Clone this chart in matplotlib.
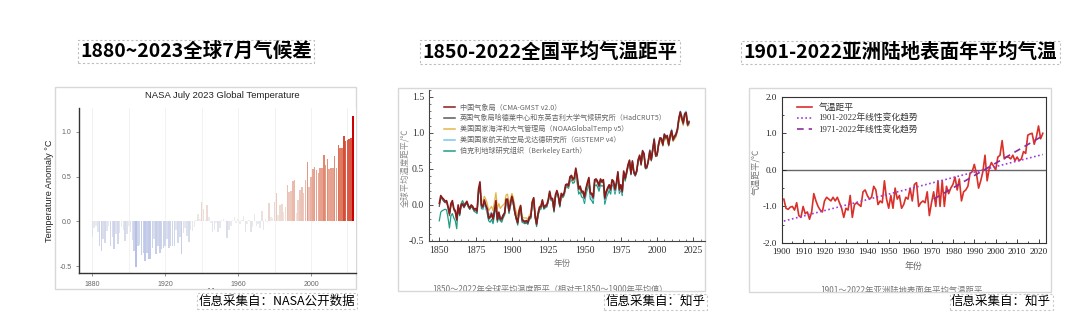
import matplotlib
matplotlib.use('Agg')
import matplotlib.pyplot as plt
from matplotlib.patches import Rectangle
from matplotlib.lines import Line2D
from matplotlib.colors import LinearSegmentedColormap, Normalize
from matplotlib.ticker import MultipleLocator

plt.rcParams['font.family'] = ['Noto Sans CJK SC', 'DejaVu Sans']

W, H = 1080, 333

# ---------------- data ----------------
# panel 1: NASA July anomaly (deg C), 1880-2023
nasa_years = list(range(1880, 2024))
nasa_anom = [
    -0.17, -0.08, -0.05, -0.12, -0.28, -0.33, -0.20, -0.24, -0.11, -0.05,
    -0.27, -0.18, -0.31, -0.14, -0.25, -0.13, -0.06, -0.10, -0.22, -0.14,
    -0.05, -0.12, -0.21, -0.33, -0.51, -0.28, -0.26, -0.38, -0.35, -0.44,
    -0.35, -0.42, -0.42, -0.30, -0.20, -0.37, -0.28, -0.35, -0.31, -0.30,
    -0.28, -0.20, -0.30, -0.27, -0.28, -0.27, -0.10, -0.24, -0.18, -0.36,
    -0.13, -0.08, -0.16, -0.23, -0.10, -0.11, -0.06, 0.02, 0.08, 0.03,
    0.22, 0.14, 0.02, 0.18, 0.05, -0.02, -0.12, -0.10, -0.02, -0.12,
    -0.08, 0.02, 0.03, -0.01, -0.19, -0.10, -0.05, 0.02, 0.05, -0.02,
    0.03, -0.03, 0.02, 0.06, -0.12, -0.03, 0.02, -0.12, -0.06, 0.08,
    -0.05, -0.03, -0.07, 0.12, -0.10, 0.03, -0.01, 0.21, 0.05, 0.04,
    0.22, 0.32, 0.07, 0.18, 0.19, 0.10, 0.16, 0.40, 0.33, 0.34,
    0.45, 0.46, 0.09, 0.24, 0.35, 0.38, 0.32, 0.46, 0.66, 0.38,
    0.50, 0.58, 0.61, 0.57, 0.54, 0.60, 0.60, 0.74, 0.63, 0.70,
    0.58, 0.60, 0.59, 0.73, 0.59, 0.85, 0.82, 0.82, 0.95, 0.90,
    0.91, 0.92, 0.93, 1.18,
]

# panel 2: global mean temperature anomaly vs 1850-1900
cn_years = list(range(1850, 2023))
cma = [
    0.02, 0.13, 0.10, 0.08, 0.05, 0.06, -0.02, -0.12, 0.02, 0.06,
    -0.05, -0.08, -0.20, 0.00, -0.12, 0.00, 0.02, -0.02, 0.02, 0.05,
    -0.01, -0.04, 0.00, -0.02, -0.06, -0.05, -0.08, 0.22, 0.32, 0.00,
    -0.02, 0.07, 0.00, -0.05, -0.18, -0.16, -0.12, -0.19, -0.08, 0.06,
    -0.20, -0.10, -0.19, -0.19, -0.14, -0.11, 0.08, 0.08, -0.08, 0.03,
    0.12, 0.04, -0.09, -0.18, -0.24, -0.08, -0.01, -0.20, -0.22, -0.23,
    -0.22, -0.24, -0.17, -0.16, 0.04, 0.10, -0.15, -0.26, -0.12, -0.03,
    -0.02, 0.07, -0.03, -0.01, 0.00, 0.07, 0.19, 0.09, 0.09, -0.07,
    0.14, 0.20, 0.13, 0.00, 0.16, 0.13, 0.17, 0.28, 0.29, 0.27,
    0.39, 0.41, 0.36, 0.38, 0.51, 0.39, 0.23, 0.26, 0.19, 0.19,
    0.11, 0.23, 0.31, 0.38, 0.17, 0.16, 0.11, 0.35, 0.36, 0.33,
    0.27, 0.36, 0.33, 0.35, 0.10, 0.19, 0.24, 0.28, 0.22, 0.35,
    0.33, 0.22, 0.31, 0.46, 0.22, 0.28, 0.19, 0.47, 0.37, 0.46,
    0.56, 0.62, 0.44, 0.61, 0.46, 0.42, 0.48, 0.63, 0.69, 0.57,
    0.75, 0.71, 0.52, 0.53, 0.62, 0.75, 0.63, 0.77, 0.91, 0.69,
    0.70, 0.84, 0.93, 0.92, 0.84, 0.98, 0.94, 0.96, 0.84, 0.96,
    1.03, 0.91, 0.95, 0.98, 1.05, 1.20, 1.29, 1.21, 1.14, 1.26,
    1.28, 1.12, 1.15,
]
hadcrut = [
    -0.02, 0.10, 0.08, 0.05, 0.03, 0.04, -0.04, -0.15, -0.02, 0.04,
    -0.07, -0.10, -0.22, -0.03, -0.14, -0.02, 0.00, -0.04, 0.00, 0.03,
    -0.03, -0.06, -0.02, -0.04, -0.08, -0.07, -0.10, 0.19, 0.28, -0.02,
    -0.04, 0.05, -0.02, -0.07, -0.20, -0.18, -0.14, -0.21, -0.10, 0.03,
    -0.22, -0.12, -0.21, -0.21, -0.16, -0.12, 0.06, 0.06, -0.10, 0.01,
    0.10, 0.02, -0.11, -0.20, -0.26, -0.10, -0.03, -0.22, -0.23, -0.25,
    -0.24, -0.26, -0.19, -0.18, 0.02, 0.08, -0.17, -0.28, -0.14, -0.05,
    -0.04, 0.05, -0.05, -0.03, -0.02, 0.05, 0.17, 0.07, 0.07, -0.09,
    0.12, 0.18, 0.11, -0.02, 0.14, 0.11, 0.15, 0.26, 0.27, 0.25,
    0.37, 0.39, 0.34, 0.36, 0.49, 0.37, 0.21, 0.24, 0.17, 0.17,
    0.09, 0.21, 0.29, 0.36, 0.15, 0.14, 0.09, 0.33, 0.34, 0.31,
    0.25, 0.34, 0.31, 0.33, 0.08, 0.17, 0.22, 0.26, 0.20, 0.33,
    0.31, 0.20, 0.29, 0.44, 0.20, 0.26, 0.17, 0.45, 0.35, 0.44,
    0.54, 0.60, 0.42, 0.59, 0.44, 0.40, 0.46, 0.61, 0.67, 0.55,
    0.73, 0.69, 0.50, 0.51, 0.60, 0.73, 0.61, 0.75, 0.89, 0.67,
    0.68, 0.82, 0.91, 0.90, 0.82, 0.96, 0.92, 0.94, 0.82, 0.94,
    1.01, 0.89, 0.93, 0.96, 1.03, 1.18, 1.27, 1.19, 1.12, 1.24,
    1.26, 1.10, 1.13,
]
berkeley = [
    -0.22, -0.10, -0.08, -0.07, -0.06, -0.07, -0.18, -0.32, -0.15, -0.12,
    -0.18, -0.22, -0.33, -0.05, -0.15, 0.02, 0.06, 0.02, 0.00, 0.03,
    -0.02, -0.06, -0.02, -0.05, -0.09, -0.10, -0.12, 0.15, 0.25, -0.05,
    -0.06, 0.02, -0.04, -0.12, -0.22, -0.24, -0.20, -0.26, -0.14, -0.02,
    -0.24, -0.16, -0.22, -0.24, -0.18, -0.14, 0.02, 0.03, -0.12, -0.02,
    0.06, 0.00, -0.12, -0.20, -0.28, -0.12, -0.05, -0.24, -0.25, -0.26,
    -0.25, -0.27, -0.20, -0.19, 0.00, 0.05, -0.18, -0.30, -0.16, -0.07,
    -0.06, 0.03, -0.06, -0.04, -0.03, 0.04, 0.15, 0.06, 0.05, -0.10,
    0.10, 0.16, 0.10, -0.03, 0.12, 0.10, 0.13, 0.23, 0.25, 0.23,
    0.32, 0.35, 0.30, 0.31, 0.42, 0.30, 0.15, 0.18, 0.11, 0.10,
    0.02, 0.14, 0.22, 0.29, 0.08, 0.06, 0.02, 0.26, 0.28, 0.25,
    0.19, 0.28, 0.26, 0.27, 0.01, 0.10, 0.15, 0.20, 0.15, 0.28,
    0.26, 0.15, 0.25, 0.40, 0.16, 0.22, 0.13, 0.42, 0.33, 0.42,
    0.53, 0.59, 0.42, 0.59, 0.44, 0.41, 0.46, 0.62, 0.67, 0.56,
    0.74, 0.70, 0.51, 0.53, 0.61, 0.75, 0.63, 0.77, 0.91, 0.70,
    0.70, 0.84, 0.92, 0.92, 0.84, 0.98, 0.94, 0.96, 0.84, 0.96,
    1.03, 0.91, 0.95, 0.98, 1.05, 1.20, 1.28, 1.21, 1.14, 1.26,
    1.27, 1.12, 1.15,
]
us_years = list(range(1880, 2023))
noaa = [
    0.05, 0.12, 0.08, 0.02, -0.08, -0.05, -0.02, -0.08, 0.05, 0.17,
    -0.05, 0.02, -0.05, -0.02, 0.00, 0.02, 0.14, 0.15, 0.02, 0.08,
    0.16, 0.10, -0.02, -0.10, -0.15, -0.05, 0.00, -0.17, -0.18, -0.18,
    -0.18, -0.20, -0.14, -0.12, 0.05, 0.10, -0.12, -0.22, -0.10, -0.02,
    0.00, 0.06, -0.02, 0.00, 0.01, 0.06, 0.17, 0.08, 0.08, -0.06,
    0.12, 0.18, 0.12, 0.01, 0.14, 0.12, 0.15, 0.26, 0.27, 0.25,
    0.36, 0.38, 0.33, 0.35, 0.47, 0.36, 0.21, 0.23, 0.17, 0.16,
    0.10, 0.21, 0.28, 0.34, 0.16, 0.14, 0.10, 0.32, 0.33, 0.31,
    0.26, 0.34, 0.32, 0.33, 0.10, 0.18, 0.22, 0.26, 0.21, 0.33,
    0.31, 0.21, 0.30, 0.43, 0.22, 0.27, 0.19, 0.45, 0.36, 0.44,
    0.54, 0.60, 0.44, 0.59, 0.45, 0.42, 0.47, 0.61, 0.66, 0.56,
    0.72, 0.68, 0.52, 0.53, 0.61, 0.72, 0.62, 0.76, 0.88, 0.68,
    0.68, 0.81, 0.88, 0.88, 0.82, 0.93, 0.90, 0.91, 0.82, 0.92,
    0.98, 0.88, 0.91, 0.94, 1.01, 1.15, 1.24, 1.17, 1.10, 1.21,
    1.23, 1.09, 1.11,
]
gistemp = [
    -0.06, 0.02, -0.04, -0.10, -0.14, -0.12, -0.10, -0.17, -0.04, 0.04,
    -0.18, -0.12, -0.16, -0.18, -0.14, -0.10, 0.02, 0.04, -0.10, -0.02,
    0.06, 0.02, -0.08, -0.16, -0.22, -0.10, -0.03, -0.20, -0.21, -0.22,
    -0.21, -0.22, -0.18, -0.16, 0.02, 0.06, -0.14, -0.24, -0.12, -0.06,
    -0.04, 0.03, -0.04, -0.02, -0.03, 0.05, 0.15, 0.07, 0.06, -0.08,
    0.11, 0.18, 0.12, -0.01, 0.13, 0.11, 0.14, 0.24, 0.27, 0.25,
    0.35, 0.38, 0.33, 0.35, 0.46, 0.33, 0.20, 0.24, 0.16, 0.16,
    0.06, 0.19, 0.27, 0.36, 0.13, 0.10, 0.06, 0.31, 0.33, 0.30,
    0.24, 0.34, 0.31, 0.33, 0.06, 0.13, 0.20, 0.25, 0.19, 0.33,
    0.31, 0.18, 0.28, 0.43, 0.19, 0.22, 0.16, 0.44, 0.36, 0.45,
    0.55, 0.62, 0.43, 0.61, 0.44, 0.41, 0.47, 0.63, 0.68, 0.58,
    0.76, 0.72, 0.52, 0.54, 0.63, 0.77, 0.66, 0.78, 0.93, 0.72,
    0.71, 0.85, 0.93, 0.93, 0.86, 0.99, 0.95, 0.97, 0.86, 0.97,
    1.05, 0.93, 0.96, 0.99, 1.06, 1.21, 1.30, 1.24, 1.16, 1.28,
    1.30, 1.14, 1.17,
]
cn_labels = [
    '中国气象局（CMA-GMST v2.0）',
    '英国气象局哈德莱中心和东英吉利大学气候研究所（HadCRUT5）',
    '美国国家海洋和大气管理局（NOAAGlobalTemp v5）',
    '美国国家航天航空局戈达德研究所（GISTEMP v4）',
    '伯克利地球研究组织（Berkeley Earth）',
]

# panel 3: Asia land surface annual mean temperature anomaly, 1901-2022
asia_years = list(range(1901, 2023))
asia_anom = [
    -0.80, -1.05, -1.08, -1.02, -1.00, -1.10, -0.90, -1.25, -1.30,
    -1.00, -1.20, -1.15, -1.35, -1.15, -0.65, -0.85, -1.00, -1.10, -1.15,
    -0.85, -0.75, -0.80, -0.85, -0.75, -0.85, -0.75, -0.90, -1.05, -1.30,
    -1.05, -1.10, -0.70, -1.30, -0.95, -0.90, -0.95, -1.00, -0.60, -0.55,
    -0.70, -0.80, -0.75, -0.45, -0.55, -0.95, -0.85, -0.90, -0.30, -0.80,
    -1.05, -0.70, -1.05, -0.50, -0.80, -0.70, -1.05, -0.95, -0.75, -0.80,
    -0.50, -0.85, -0.40, -0.35, -1.00, -0.90, -0.85, -0.90, -0.60, -1.25,
    -0.90, -0.60, -1.00, -0.30, -1.00, -0.30, -1.00, -0.45, -0.65, -0.50,
    -0.40, -0.20, -0.55, -0.25, -0.85, -0.60, -0.55, -0.45, -0.10, -0.05,
    0.15, -0.10, -0.50, -0.30, -0.05, 0.40, -0.30, 0.05, 0.20, 0.10,
    0.00, 0.35, 0.40, 0.80, 0.30, 0.35, 0.35, 0.30, 0.40, 0.25,
    0.35, 0.25, 0.30, 0.50, 0.45, 0.95, 0.98, 1.00, 0.70, 0.90,
    1.20, 0.85, 1.00,
]
trend_long_years = [1901, 2022]
trend_long = [-1.40, 0.42]
trend_short_years = [1971, 2022]
trend_short = [-0.80, 0.93]

titles = ['1880~2023全球7月气候差', '1850-2022全国平均气温距平', '1901-2022亚洲陆地表面年平均气温']
sources = ['信息采集自：NASA公开数据', '信息采集自：知乎', '信息采集自：知乎']


def fx(x):
    return x / W


def fy(y):
    return 1 - y / H


def px_axes(fig, l, t, r, b):
    return fig.add_axes([fx(l), fy(b), (r - l) / W, (b - t) / H])


fig = plt.figure(figsize=(10.8, 3.33), dpi=100)

# cards (image frames)
cards = []
for (l, t, r, b) in [(55, 87, 356, 289), (398, 88, 705, 290.7), (749, 88, 1050.7, 291.7)]:
    rect = Rectangle((fx(l), fy(b)), (r - l) / W, (b - t) / H, transform=fig.transFigure,
                     fill=False, ec='#d8d8d8', lw=1.0, zorder=0)
    fig.add_artist(rect)
    cards.append(rect)

# headline titles in dashed boxes
for (cx, cy), t in zip([(196, 51.5), (550, 52), (900.5, 52.5)], titles):
    fig.text(fx(cx), fy(cy), t, ha='center', va='center', fontsize=14, fontweight='bold',
             color='black',
             bbox=dict(boxstyle='square,pad=0.12', fc='white', ec='#bdbdbd', lw=0.8, ls=(0, (2, 2))))

# source captions
for (cx, cy), s in zip([(277, 301), (655.5, 302), (1001, 302)], sources):
    fig.text(fx(cx), fy(cy), s, ha='center', va='center', fontsize=9, color='black',
             bbox=dict(boxstyle='square,pad=0.12', fc='white', ec='#c8c8c8', lw=0.8, ls=(0, (2, 2))))

# ---------------- panel 1: NASA bars ----------------
ax1 = px_axes(fig, 79, 108, 356, 273)
cmap = LinearSegmentedColormap.from_list(
    'anom', [(0, '#6f86dc'), (0.5, '#efefef'), (0.7, '#ebb7a8'), (0.85, '#dd7a60'), (1.0, '#cc0000')])
norm = Normalize(-1.18, 1.18)
ax1.bar(nasa_years, nasa_anom, width=0.85, color=cmap(norm(nasa_anom)), zorder=2)
ax1.set_xlim(1872.7, 2024.7)
ax1.set_ylim(-0.577, 1.265)
ax1.set_xticks([1880, 1920, 1960, 2000])
ax1.set_yticks([-0.5, 0.0, 0.5, 1.0])
ax1.set_yticklabels(['-0.5', '0.0', '0.5', '1.0'])
ax1.xaxis.set_minor_locator(MultipleLocator(20))
ax1.grid(axis='x', which='both', color='#f0f0f0', lw=0.6, zorder=0)
for sp in ['top', 'right']:
    ax1.spines[sp].set_visible(False)
for sp in ['left', 'bottom']:
    ax1.spines[sp].set_color('#333333')
    ax1.spines[sp].set_linewidth(1.0)
ax1.tick_params(labelsize=5, colors='#666666', length=2, width=0.5,
                labelfontfamily=['Liberation Sans'])
ax1.tick_params(which='minor', length=0)
ax1.set_ylabel('Temperature Anomaly °C', fontsize=6.6, family=['Liberation Sans'], color='#222222',
               labelpad=4)
fig.text(fx(222), fy(96), 'NASA July 2023 Global Temperature', ha='center', va='center',
         fontsize=6.8, family=['Liberation Sans'], color='#222222')
t = fig.text(fx(217), fy(286.5), 'Year', ha='center', va='top', fontsize=6.6,
             family=['Liberation Sans'], color='#222222')
t.set_clip_path(cards[0])

# ---------------- panel 2: global mean lines ----------------
ax2 = px_axes(fig, 429, 89.5, 705, 241)
ax2.plot(cn_years, berkeley, color='#1f9e84', lw=0.9, zorder=2)
ax2.plot(us_years, gistemp, color='#7cc8e6', lw=0.9, zorder=3)
ax2.plot(us_years, noaa, color='#e3b64a', lw=0.9, zorder=4)
ax2.plot(cn_years, hadcrut, color='#5a5a5a', lw=0.9, zorder=5)
ax2.plot(cn_years, cma, color='#8b1a1a', lw=1.2, zorder=6)
ax2.set_xlim(1842.9, 2033)
ax2.set_ylim(-0.5, 1.6)
ax2.set_xticks([1850, 1875, 1900, 1925, 1950, 1975, 2000, 2025])
ax2.set_yticks([-0.5, 0.0, 0.5, 1.0, 1.5])
ax2.set_yticklabels(['-0.5', '0.0', '0.5', '1.0', '1.5'])
ax2.xaxis.set_minor_locator(MultipleLocator(5))
ax2.yaxis.set_minor_locator(MultipleLocator(0.1))
for sp in ['top', 'right']:
    ax2.spines[sp].set_visible(False)
for sp in ['left', 'bottom']:
    ax2.spines[sp].set_color('#444444')
    ax2.spines[sp].set_linewidth(0.8)
ax2.tick_params(direction='in', length=3, width=0.6, labelsize=7, colors='#333333',
                labelfontfamily=['Liberation Serif'])
ax2.tick_params(which='minor', direction='in', length=1.5, width=0.5, colors='#444444')
ax2.set_facecolor('none')
handles = [Line2D([], [], color=c, lw=1.1) for c in ['#8b1a1a', '#5a5a5a', '#e3b64a', '#7cc8e6', '#1f9e84']]
ax2.legend(handles, cn_labels, loc='upper left', bbox_to_anchor=(fx(440.5), fy(100)),
           bbox_transform=fig.transFigure, frameon=False, borderpad=0, handlelength=1.6,
           handletextpad=0.65, labelspacing=0.4, labelcolor='#666666',
           prop={'family': ['Noto Sans CJK SC'], 'size': 5.1})
fig.text(fx(405), fy(168), '全球平均温度距平/℃', rotation=90, ha='center', va='center',
         fontsize=6, color='#888888')
fig.text(fx(562), fy(263), '年份', ha='center', va='center', fontsize=6.2, color='#777777')
t = fig.text(fx(550), fy(284.5), '1850～2022年全球平均温度距平（相对于1850～1900年平均值）',
             ha='center', va='top', fontsize=5.9, color='#777777')
t.set_clip_path(cards[1])

# ---------------- panel 3: Asia land temperature ----------------
ax3 = px_axes(fig, 781.7, 96.7, 1046, 243)
ax3.axhline(0, color='#666666', lw=1.0, zorder=1)
ax3.plot(asia_years, asia_anom, color='#d9302a', lw=1.2, zorder=3, label='气温距平')
ax3.plot(trend_long_years, trend_long, color='#a13ad8', lw=1.2, ls=(0, (1, 1.5)), zorder=4,
         label='1901-2022年线性变化趋势')
ax3.plot(trend_short_years, trend_short, color='#8a2d9c', lw=1.2, ls=(0, (4, 3)), zorder=4,
         label='1971-2022年线性变化趋势')
ax3.set_xlim(1900, 2023.5)
ax3.set_ylim(-2.0, 2.0)
ax3.set_xticks(range(1900, 2021, 10))
ax3.set_yticks([-2, -1, 0, 1, 2])
ax3.set_yticklabels(['-2.0', '-1.0', '0.0', '1.0', '2.0'])
ax3.xaxis.set_minor_locator(MultipleLocator(5))
ax3.yaxis.set_minor_locator(MultipleLocator(0.5))
for sp in ax3.spines.values():
    sp.set_color('#333333')
    sp.set_linewidth(0.8)
ax3.tick_params(direction='in', length=3, width=0.6, labelsize=6.6, colors='#222222',
                labelfontfamily=['Liberation Serif'])
ax3.tick_params(which='minor', direction='in', length=1.5, width=0.5)
ax3.legend(loc='upper left', bbox_to_anchor=(fx(793), fy(98.5)), bbox_transform=fig.transFigure,
           frameon=False, borderpad=0, handlelength=1.7, handletextpad=0.7, labelspacing=0.25,
           labelcolor='#333333', prop={'family': ['Liberation Serif', 'Noto Sans CJK SC'], 'size': 6.3})
fig.text(fx(756), fy(171.5), '气温距平/℃', rotation=90, ha='center', va='center',
         fontsize=6.2, color='#777777')
fig.text(fx(913), fy(266.5), '年份', ha='center', va='center', fontsize=6.4, color='#666666')
t = fig.text(fx(901.5), fy(286), '1901～2022年亚洲陆地表面年平均气温距平',
             ha='center', va='top', fontsize=6, color='#777777')
t.set_clip_path(cards[2])

fig.savefig('out.png', dpi=100)
